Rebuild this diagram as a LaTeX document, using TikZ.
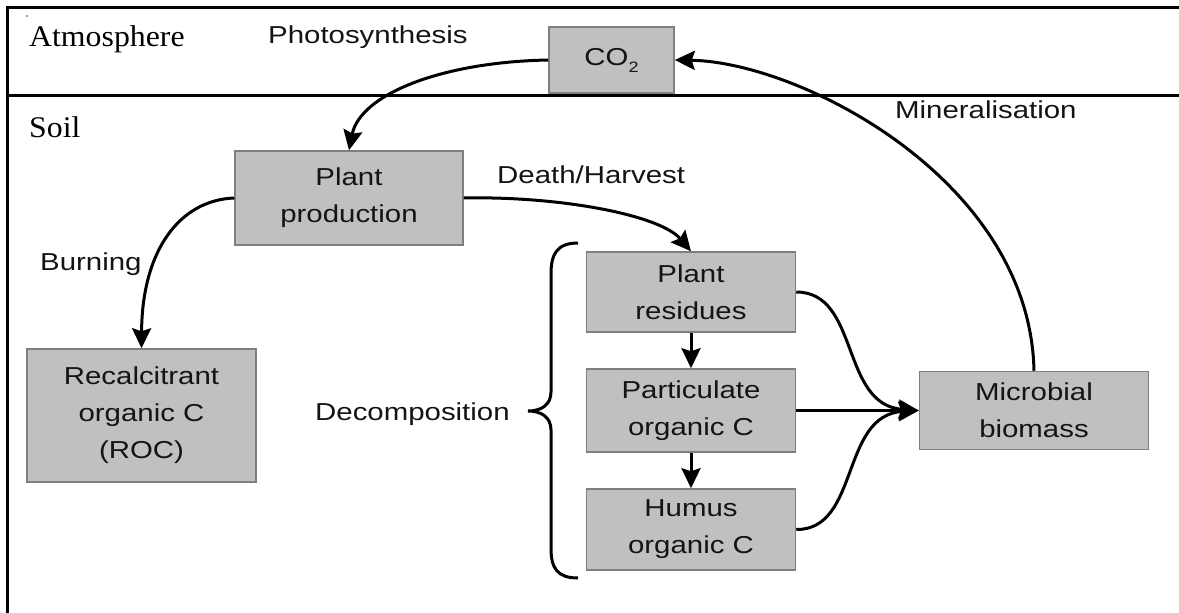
\documentclass[tikz,border=0pt]{standalone}
\usepackage{fontspec}
\setmainfont[FakeStretch=1.06]{Liberation Serif}
\setsansfont[FakeStretch=1.2]{Liberation Sans}
\usetikzlibrary{arrows.meta}
\definecolor{boxfill}{HTML}{C0C0C0}
\definecolor{boxborder}{HTML}{7F7F7F}
\definecolor{ink}{HTML}{141414}
\newcommand\diagsf{\sffamily\fontsize{24.5}{37}\selectfont}
\newcommand\diagrm{\rmfamily\fontsize{30}{36}\selectfont}
\newcommand\subtwo{\raisebox{-7pt}{\fontsize{15}{15}\selectfont 2}}
\begin{document}
\begin{tikzpicture}[x=1pt,y=-1pt,
  box/.style={draw=boxborder, line width=1.5pt, fill=boxfill, text=ink,
    align=center, inner sep=0pt, font=\diagsf},
  lbl/.style={inner sep=0pt, anchor=base west, text=ink, font=\diagsf},
  rmlbl/.style={inner sep=0pt, anchor=base west, text=black, font=\diagrm},
  frame/.style={line width=3pt, black},
  flow/.style={line width=3pt, black, -{Stealth[length=20pt,width=19pt,inset=3pt]}}]
\useasboundingbox (0,0) rectangle (1179,613);
\fill[white] (0,0) rectangle (1179,613);
% frame
\draw[frame] (1179,7) -- (7,7) -- (7,613);
\draw[frame] (7,95) -- (1179,95);
\fill[gray] (27,16) circle (1.2pt);
% labels
\node[rmlbl] (atm) at (29,46) {Atmosphere};
\node[rmlbl] (soil) at (29,137) {Soil};
\node[lbl] (photo) at (268,43) {Photosynthesis};
\node[lbl] (death) at (497,183) {Death/Harvest};
\node[lbl] (burn) at (40,270) {Burning};
\node[lbl] (decomp) at (315,420) {Decomposition};
\node[lbl] (mineral) at (895,118) {Mineralisation};
% boxes
\node[box, minimum width=125pt, minimum height=66pt] (co2) at (611.5,60) {CO\subtwo};
\node[box, minimum width=228pt, minimum height=94pt] (plant) at (349,198) {Plant\\production};
\node[box, minimum width=229pt, minimum height=133pt] (roc) at (141.5,415.5) {Recalcitrant\\organic C\\(ROC)};
\node[box, minimum width=209pt, minimum height=80pt] (res) at (691,292) {Plant\\residues};
\node[box, minimum width=209pt, minimum height=83pt] (part) at (691,410.5) {Particulate\\organic C};
\node[box, minimum width=209pt, minimum height=81pt] (hum) at (691,529.5) {Humus\\organic C};
\node[box, minimum width=229pt, minimum height=78pt] (mic) at (1034,410.5) {Microbial\\biomass};
% brace
\draw[line width=3pt, black] (578,243) .. controls (557,243) and (551,254) .. (551,274)
  -- (551,392) .. controls (551,405) and (541,411) .. (528,411)
  .. controls (541,411) and (551,417) .. (551,430)
  -- (551,548) .. controls (551,568) and (557,578) .. (578,578);
% connectors
\draw[flow] (co2.west) .. controls (440,62) and (360,95) .. (plant.north);
\draw[flow] (plant.east) .. controls (560,196) and (660,215) .. (res.north);
\draw[flow] (plant.west) .. controls (180,200) and (142,250) .. (roc.north);
\draw[flow] (res.south) -- (part.north);
\draw[flow] (part.south) -- (hum.north);
\draw[flow] (res.east) .. controls (860,292) and (840,405) .. (mic.west);
\draw[flow] (part.east) -- (mic.west);
\draw[flow] (hum.east) .. controls (860,530) and (840,415) .. (mic.west);
\draw[flow] (mic.north) .. controls (1030,180) and (800,62) .. (co2.east);
\end{tikzpicture}
\end{document}
